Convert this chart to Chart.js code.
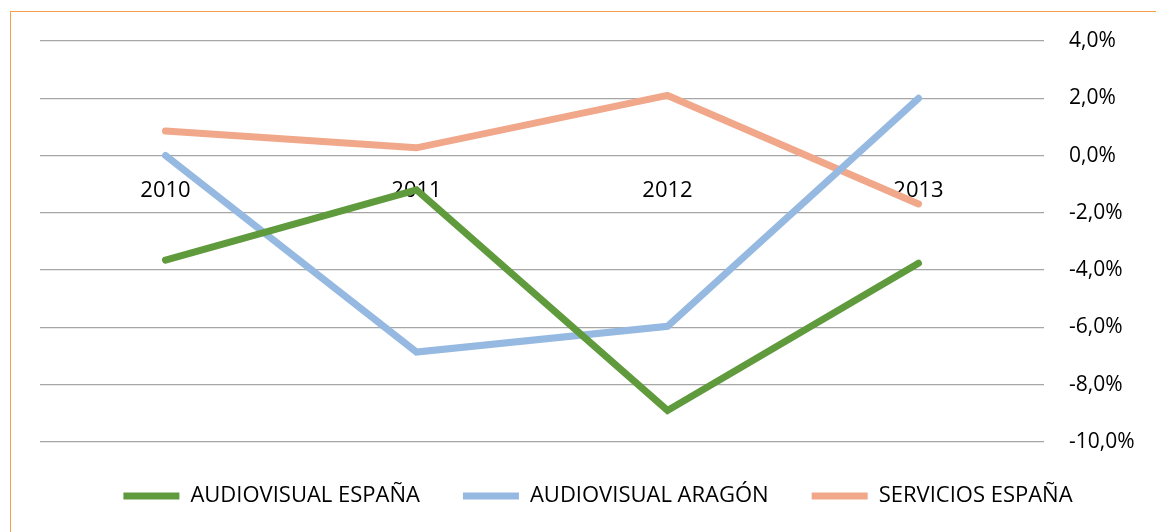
<!DOCTYPE html>
<html>
<head>
<meta charset="utf-8">
<script src="https://cdn.jsdelivr.net/npm/chart.js@4"></script>
<style>
    html, body { margin: 0; padding: 0; background: #fff; overflow: hidden; }
    .frame {
        position: absolute; left: 10px; top: 11px;
        width: 1200px; height: 600px;
        border: 1px solid #f5a04f;
    }
    .wrap { position: absolute; left: 0; top: 0; width: 1156px; height: 532px; }
</style>
</head>
<body>
<div class="frame"></div>
<div class="wrap"><canvas id="chart" width="1156" height="532"></canvas></div>
<script>
const years = ['2010', '2011', '2012', '2013'];
const audiovisualEspana = [-3.65, -1.2, -8.9, -3.76];
const audiovisualAragon = [0.0, -6.86, -5.96, 2.0];
const serviciosEspana = [0.86, 0.27, 2.1, -1.69];
const yTicks = [4, 2, 0, -2, -4, -6, -8, -10];

const FONT = '"Open Sans", Lato, sans-serif';

function series(label, data, color) {
    return {
        label: label,
        data: data,
        borderColor: color,
        backgroundColor: color,
        borderWidth: 7,
        borderCapStyle: 'round',
        borderJoinStyle: 'miter',
        pointRadius: 0,
        pointHoverRadius: 0,
        tension: 0
    };
}

new Chart(document.getElementById('chart'), {
    type: 'line',
    data: {
        labels: years,
        datasets: [
            series('AUDIOVISUAL ESPAÑA', audiovisualEspana, '#5f9a3c'),
            series('AUDIOVISUAL ARAGÓN', audiovisualAragon, '#95b9e1'),
            series('SERVICIOS ESPAÑA', serviciosEspana, '#f1a78a')
        ]
    },
    options: {
        responsive: false,
        animation: false,
        events: [],
        layout: { padding: { left: 40, top: 41, right: 0, bottom: 15 } },
        plugins: {
            tooltip: { enabled: false },
            legend: {
                position: 'bottom',
                labels: {
                    usePointStyle: true,
                    pointStyle: 'line',
                    pointStyleWidth: 56,
                    boxWidth: 56,
                    boxHeight: 7,
                    padding: 43,
                    color: '#000',
                    font: { family: FONT, size: 22 }
                }
            }
        },
        scales: {
            x: {
                position: { y: 0 },
                offset: true,
                grid: { display: false, drawTicks: false },
                border: { display: false },
                ticks: {
                    color: '#000',
                    padding: 22,
                    font: { family: FONT, size: 22 }
                }
            },
            y: {
                position: 'right',
                min: -10,
                max: 4,
                afterBuildTicks: (scale) => {
                    scale.ticks = yTicks.map(v => ({ value: v }));
                },
                afterFit: (scale) => { scale.width = 112; },
                grid: { color: '#a6a6a6', lineWidth: 1.3, drawTicks: false },
                border: { display: false },
                ticks: {
                    color: '#000',
                    padding: 25,
                    font: { family: FONT, size: 21 },
                    callback: (v) => v.toFixed(1).replace('.', ',') + '%'
                }
            }
        }
    }
});
</script>
</body>
</html>
